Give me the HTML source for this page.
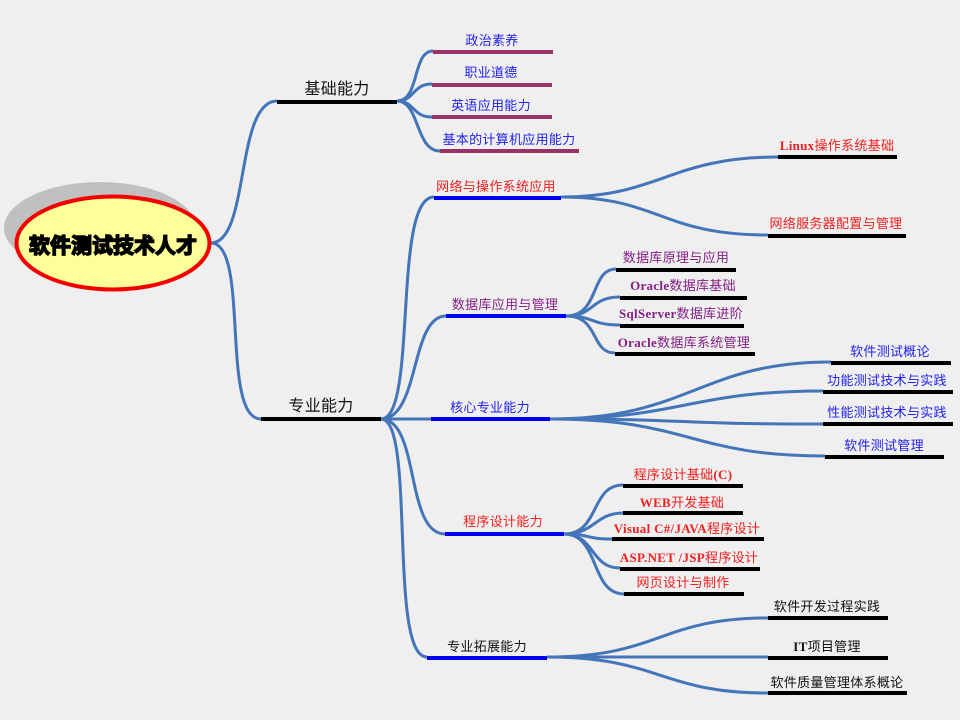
<!DOCTYPE html>
<html><head><meta charset="utf-8"><style>
html,body{margin:0;padding:0;background:#efefef;width:960px;height:720px;overflow:hidden}
svg{display:block}
text{font-family:"Liberation Serif","WenQuanYi Zen Hei","Noto Sans CJK SC",sans-serif;font-size:13px;text-anchor:middle;letter-spacing:.3px}
.c{fill:none;stroke:#4575b9;stroke-width:3}
.bl{fill:#2222ee}.r{fill:#f02020}.p{fill:#852085}.k{fill:#111}
.b{font-weight:bold}
</style></head><body>
<svg width="960" height="720" viewBox="0 0 960 720" xmlns="http://www.w3.org/2000/svg">
<rect width="960" height="720" fill="#efefef"/>
<ellipse cx="100" cy="228" rx="96" ry="46" fill="#c0c0c0"/>
<g class="c">
<path d="M211 243C250 243 235 101 277 101"/>
<path d="M211 243C250 243 220 419 261 419"/>
<path d="M397 101C420 101 412 51 433 51"/>
<path d="M397 101C415 101 412 84 432 84"/>
<path d="M397 101C415 101 412 117 432 117"/>
<path d="M397 101C420 101 415 151 440 151"/>
<path d="M381 419C418 419 392 197 434 197"/>
<path d="M381 419C420 419 410 316 446 316"/>
<path d="M381 419H431"/>
<path d="M381 419C420 419 405 534 445 534"/>
<path d="M381 419C416 419 388 657 427 657"/>
<path d="M561 197C660 197 670 157 778 157"/>
<path d="M561 197C660 197 660 235 768 235"/>
<path d="M566 316C600 316 590 269 616 269"/>
<path d="M566 316C595 316 590 297 620 297"/>
<path d="M566 316C595 316 590 325 620 325"/>
<path d="M566 316C600 316 590 353 615 353"/>
<path d="M550 419C690 419 700 362 831 362"/>
<path d="M550 419C680 419 690 391 823 391"/>
<path d="M550 419C700 419 660 424 823 424"/>
<path d="M550 419C690 419 690 456 825 456"/>
<path d="M564 534C600 534 590 485 623 485"/>
<path d="M564 534C595 534 595 513 623 513"/>
<path d="M564 534C590 534 585 539 612 539"/>
<path d="M564 534C595 534 590 568 620 568"/>
<path d="M564 534C600 534 590 594 624 594"/>
<path d="M547 657C660 657 660 618 768 618"/>
<path d="M547 657H768"/>
<path d="M547 657C660 657 660 693 768 693"/>
</g>
<ellipse cx="113" cy="243" rx="96.500" ry="46.500" fill="#ffff99" stroke="#f50000" stroke-width="4"/>
<text x="113" y="253" style="font-size:21px;font-weight:bold;letter-spacing:0;stroke:#000;stroke-width:1.500px;fill:#000;font-family:'Noto Sans CJK SC',sans-serif">软件测试技术人才</text>
<g fill="#000">
<rect x="277" y="100" width="120" height="4"/><rect x="261" y="417" width="120" height="4"/>
<rect x="778" y="155" width="119" height="4"/><rect x="768" y="234" width="138" height="4"/>
<rect x="616" y="268" width="120" height="4"/><rect x="620" y="296" width="127" height="4"/>
<rect x="620" y="324" width="124" height="4"/><rect x="615" y="352" width="140" height="4"/>
<rect x="831" y="361" width="120" height="4"/><rect x="823" y="390" width="130" height="4"/>
<rect x="823" y="422" width="130" height="4"/><rect x="825" y="455" width="119" height="4"/>
<rect x="623" y="484" width="120" height="4"/><rect x="623" y="511" width="120" height="4"/>
<rect x="612" y="537" width="152" height="4"/><rect x="620" y="567" width="140" height="4"/>
<rect x="624" y="592" width="120" height="4"/>
<rect x="768" y="616" width="120" height="4"/><rect x="768" y="656" width="120" height="4"/><rect x="768" y="691" width="139" height="4"/>
</g>
<g fill="#0000f0">
<rect x="434" y="196" width="127" height="4"/><rect x="446" y="314" width="120" height="4"/>
<rect x="431" y="417" width="119" height="4"/><rect x="445" y="532" width="119" height="4"/>
<rect x="427" y="656" width="120" height="4"/>
</g>
<g fill="#993366">
<rect x="433" y="50" width="120" height="4"/><rect x="432" y="83" width="120" height="4"/>
<rect x="432" y="115" width="120" height="4"/><rect x="440" y="149" width="139" height="4"/>
</g>
<text x="337" y="94" class="k" style="font-size:16px">基础能力</text>
<text x="321" y="411" class="k" style="font-size:16px">专业能力</text>
<g class="bl">
<text x="492" y="45">政治素养</text><text x="491" y="77">职业道德</text>
<text x="491" y="110">英语应用能力</text><text x="509" y="144">基本的计算机应用能力</text>
<text x="490" y="412">核心专业能力</text>
<text x="890" y="356">软件测试概论</text><text x="887" y="385">功能测试技术与实践</text>
<text x="887" y="417">性能测试技术与实践</text><text x="884" y="450">软件测试管理</text>
</g>
<g class="r">
<text x="496" y="191">网络与操作系统应用</text>
<text x="837" y="150"><tspan class="b">Linux</tspan>操作系统基础</text>
<text x="836" y="228">网络服务器配置与管理</text>
<text x="503" y="526">程序设计能力</text>
<text x="683" y="479">程序设计基础<tspan class="b">(C)</tspan></text>
<text x="682" y="507"><tspan class="b">WEB</tspan>开发基础</text>
<text x="687" y="533"><tspan class="b">Visual C#/JAVA</tspan>程序设计</text>
<text x="689" y="562"><tspan class="b">ASP.NET /JSP</tspan>程序设计</text>
<text x="683" y="587">网页设计与制作</text>
</g>
<g class="p">
<text x="505" y="309">数据库应用与管理</text>
<text x="676" y="262">数据库原理与应用</text>
<text x="683" y="290"><tspan class="b">Oracle</tspan>数据库基础</text>
<text x="681" y="318"><tspan class="b">SqlServer</tspan>数据库进阶</text>
<text x="684" y="347"><tspan class="b">Oracle</tspan>数据库系统管理</text>
</g>
<g class="k">
<text x="487" y="651">专业拓展能力</text>
<text x="827" y="611">软件开发过程实践</text>
<text x="827" y="651"><tspan class="b">IT</tspan>项目管理</text>
<text x="837" y="687">软件质量管理体系概论</text>
</g>
</svg>
</body></html>
